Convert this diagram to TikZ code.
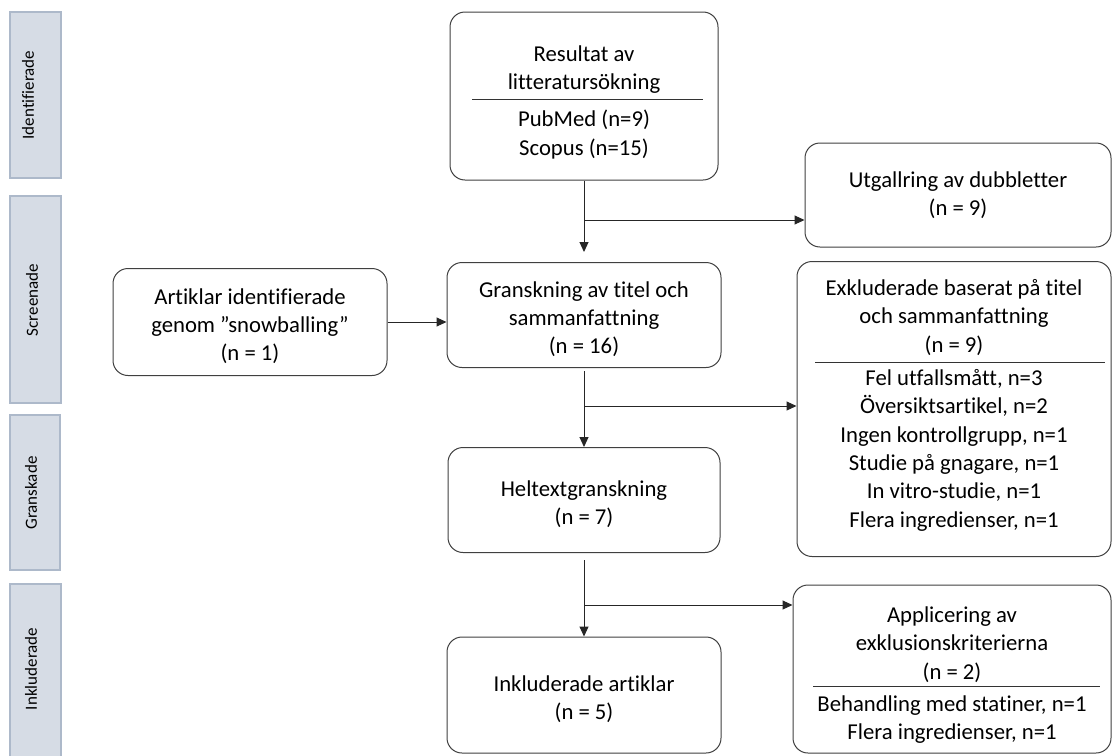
\documentclass[tikz,border=0pt]{standalone}
\usepackage{fontspec}
\setmainfont{Carlito}[Ligatures=NoCommon]
\usetikzlibrary{arrows.meta}

\definecolor{lanefill}{HTML}{D6DCE5}
\definecolor{laneline}{HTML}{ADB9CA}

\tikzset{
	flowbox/.style={draw=black!75, line width=1pt, rounded corners=15pt, fill=white,
		align=center, font=\fontsize{22.7}{28.3}\selectfont},
	lanebox/.style={draw=laneline, fill=lanefill, line width=2pt},
	lanetext/.style={rotate=90, inner sep=0pt, font=\fontsize{17}{20}\selectfont},
	sepline/.style={line width=1pt, black!80},
}

\begin{document}
\begin{tikzpicture}[x=1pt,y=-1pt]
	\useasboundingbox (0,0) rectangle (1113,755);

	% phases on the left
	\draw[lanebox] (10,12) rectangle (61,178);
	\draw[lanebox] (10,196) rectangle (61,403);
	\draw[lanebox] (10,415) rectangle (60,570);
	\draw[lanebox] (10,584) rectangle (61,758);
	\node[lanetext] (identifierade) at (28,95) {Identifierade};
	\node[lanetext] (screenade) at (32,300) {Screenade};
	\node[lanetext] (granskade) at (31,493) {Granskade};
	\node[lanetext] (inkluderade) at (31,669) {Inkluderade};

	% boxes
	\node[flowbox, minimum width=268pt, minimum height=168pt] (res) at (584,96)
		{\mbox{}\\[0pt]Resultat av\\litteratursökning\\[9pt]PubMed (n=9)\\Scopus (n=15)};
	\node[flowbox, minimum width=306pt, minimum height=104pt] (utg) at (958,195)
		{Utgallring av dubbletter\\(n = 9)};
	\node[flowbox, minimum width=274pt, minimum height=107pt] (art) at (250,322)
		{\mbox{}\\[-4pt]Artiklar identifierade\\genom ”snowballing”\\(n = 1)};
	\node[flowbox, minimum width=274pt, minimum height=105pt] (gran) at (584,315)
		{\mbox{}\\[-4pt]Granskning av titel och\\sammanfattning\\(n = 16)};
	\node[flowbox, minimum width=314pt, minimum height=295pt] (exk) at (954,409)
		{Exkluderade baserat på titel\\och sammanfattning\\(n = 9)\\[5pt]
		Fel utfallsmått, n=3\\Översiktsartikel, n=2\\Ingen kontrollgrupp, n=1\\
		Studie på gnagare, n=1\\In vitro-studie, n=1\\Flera ingredienser, n=1\\[-17pt]\mbox{}};
	\node[flowbox, minimum width=272pt, minimum height=105pt] (helt) at (584,500)
		{\mbox{}\\[-4pt]Heltextgranskning\\(n = 7)};
	\node[flowbox, minimum width=274pt, minimum height=116pt] (ink) at (584,695)
		{\mbox{}\\[-4pt]Inkluderade artiklar\\(n = 5)};
	\node[flowbox, minimum width=318pt, minimum height=168pt] (app) at (952,669)
		{\mbox{}\\[0pt]Applicering av\\exklusionskriterierna\\(n = 2)\\[4pt]
		Behandling med statiner, n=1\\Flera ingredienser, n=1};

	% lines under the headings
	\draw[sepline] (472,99) -- (703,99);
	\draw[sepline] (815,362) -- (1105,362);
	\draw[sepline] (813,686) -- (1100,686);

	% branch points
	\coordinate (b1) at (584,220);
	\coordinate (b2) at (584,406);
	\coordinate (b3) at (584,605);

	\begin{scope}[-{Triangle[length=10pt,width=9pt]}, line width=1pt, black!85]
		\draw (res.south) -- ([yshift=10pt]gran.north);
		\draw (b1) -- (b1 -| utg.west);
		\draw (art.east) -- (art.east -| gran.west);
		\draw ([yshift=-3pt]gran.south) -- (helt.north);
		\draw (b2) -- (b2 -| exk.west);
		\draw ([yshift=-7pt]helt.south) -- (ink.north);
		\draw (b3) -- (b3 -| app.west);
	\end{scope}
\end{tikzpicture}
\end{document}
